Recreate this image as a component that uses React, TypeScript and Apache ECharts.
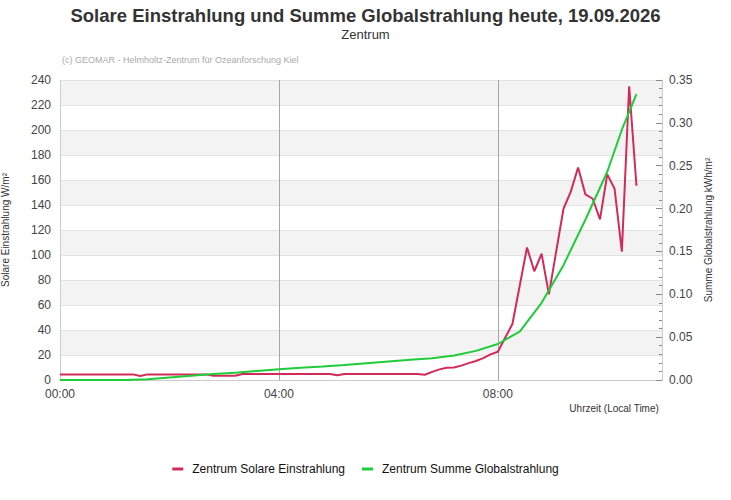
import React, { useEffect, useRef } from 'react';
import * as echarts from 'echarts';

// Solare Einstrahlung (W/m²), Zentrum
const redTimes = [
  '00:00', '01:20', '01:28', '01:36', '02:40', '02:48', '03:12', '03:20',
  '04:56', '05:04', '05:12', '06:32', '06:40', '06:48', '06:56', '07:04',
  '07:12', '07:20', '07:28', '07:36', '07:44', '07:52', '08:00', '08:16',
  '08:32', '08:40', '08:48', '08:56', '09:12', '09:20', '09:28', '09:36',
  '09:44', '09:52', '10:00', '10:08', '10:16', '10:24', '10:32',
];
const redValues = [
  4.5, 4.5, 3.2, 4.5, 4.5, 3.4, 3.4, 4.8,
  4.8, 3.8, 4.8, 4.8, 4.2, 6.5, 8.5, 9.8,
  10, 11.5, 13.5, 15.2, 17.5, 20.5, 22.6, 44.8,
  106, 87, 101, 68.5, 137, 150.7, 170, 148.5,
  145, 128.5, 164.5, 153, 102.7, 235, 155.4,
];

// Summe Globalstrahlung (kWh/m²), Zentrum
const greenTimes = [
  '00:00', '01:12', '01:36', '02:00', '02:24', '02:48', '03:12', '03:36',
  '04:00', '04:24', '04:48', '05:12', '05:36', '06:00', '06:24', '06:48',
  '07:12', '07:36', '08:00', '08:24', '08:48', '09:12', '09:36', '10:00',
  '10:16', '10:32',
];
const greenValues = [
  0, 0, 0.001, 0.003, 0.005, 0.007, 0.0085, 0.0105,
  0.0125, 0.0142, 0.0158, 0.0175, 0.0195, 0.0215, 0.0235, 0.0255,
  0.0285, 0.034, 0.042, 0.0565, 0.09, 0.134, 0.187, 0.243,
  0.292, 0.3335,
];

const FONT = '"Liberation Sans", Arial, sans-serif';

const toHours = (t: string) => {
  const [h, m] = t.split(':').map(Number);
  return h + m / 60;
};

export default function App() {
  const chartRef = useRef<HTMLDivElement>(null);

  useEffect(() => {
    if (!chartRef.current) return;
    const chart = echarts.init(chartRef.current, undefined, { renderer: 'svg' });

    chart.setOption({
      animation: false,
      backgroundColor: '#ffffff',
      textStyle: { fontFamily: FONT },
      title: [
        {
          text: 'Solare Einstrahlung und Summe Globalstrahlung heute, 19.09.2026',
          left: 'center',
          top: 1,
          textStyle: { fontSize: 18.5, fontWeight: 'bold', color: '#333333', fontFamily: FONT },
        },
        {
          text: 'Zentrum',
          left: 'center',
          top: 23,
          textStyle: { fontSize: 13, fontWeight: 'normal', color: '#333333', fontFamily: FONT },
        },
        {
          text: '(c) GEOMAR - Helmholtz-Zentrum für Ozeanforschung Kiel',
          left: 57,
          top: 50,
          textStyle: { fontSize: 9, fontWeight: 'normal', color: '#aaaaaa', fontFamily: FONT },
        },
      ],
      graphic: [
        {
          type: 'text',
          right: 72,
          top: 403,
          style: { text: 'Uhrzeit (Local Time)', fontSize: 10, fill: '#333333', fontFamily: FONT },
        },
      ],
      legend: {
        top: 458,
        left: 'center',
        itemWidth: 11,
        itemHeight: 3,
        itemGap: 17,
        icon: 'rect',
        textStyle: { fontSize: 12, color: '#111111', fontFamily: FONT, padding: [0, 0, 0, 4] },
        data: ['Zentrum Solare Einstrahlung', 'Zentrum Summe Globalstrahlung'],
      },
      grid: {
        left: 60,
        right: 69,
        top: 80,
        bottom: 120,
        containLabel: false,
        outerBoundsMode: 'none',
      },
      xAxis: {
        type: 'value',
        min: 0,
        max: 11,
        interval: 4,
        axisLine: { show: true, lineStyle: { color: '#cccccc' } },
        axisTick: { show: false },
        axisLabel: {
          color: '#444444',
          fontSize: 12,
          margin: 8,
          showMaxLabel: false,
          formatter: (v: number) => `${String(v).padStart(2, '0')}:00`,
        },
        splitLine: {
          show: true,
          showMinLine: false,
          showMaxLine: false,
          lineStyle: { color: '#a6a6a6', width: 1 },
        },
      },
      yAxis: [
        {
          type: 'value',
          min: 0,
          max: 240,
          interval: 20,
          name: 'Solare Einstrahlung W/m²',
          nameLocation: 'middle',
          nameRotate: 90,
          nameGap: 50,
          nameTextStyle: { fontSize: 10, color: '#333333' },
          axisLine: { show: true, lineStyle: { color: '#cccccc' } },
          axisTick: { show: false },
          axisLabel: { color: '#444444', fontSize: 12, margin: 9 },
          splitLine: { show: true, lineStyle: { color: '#e3e3e3' } },
          splitArea: { show: true, areaStyle: { color: ['#ffffff', '#f3f3f3'] } },
        },
        {
          type: 'value',
          position: 'right',
          min: 0,
          max: 0.35,
          interval: 0.05,
          name: 'Summe Globalstrahlung kWh/m²',
          nameLocation: 'middle',
          nameRotate: 90,
          nameGap: 38,
          nameTextStyle: { fontSize: 10, color: '#333333' },
          axisLine: { show: true, lineStyle: { color: '#cccccc' } },
          axisTick: { show: true, inside: true, length: 6, lineStyle: { color: '#888888' } },
          minorTick: { show: true, splitNumber: 5, length: 3, lineStyle: { color: '#888888' } },
          axisLabel: {
            color: '#444444',
            fontSize: 12,
            margin: 7,
            formatter: (v: number) => v.toFixed(2),
          },
          splitLine: { show: false },
        },
      ],
      series: [
        {
          name: 'Zentrum Solare Einstrahlung',
          type: 'line',
          yAxisIndex: 0,
          showSymbol: false,
          color: '#d22b5a',
          lineStyle: { width: 2, color: '#d22b5a' },
          data: redTimes.map((t, i) => [toHours(t), redValues[i]]),
        },
        {
          name: 'Zentrum Summe Globalstrahlung',
          type: 'line',
          yAxisIndex: 1,
          showSymbol: false,
          color: '#1fcc3a',
          lineStyle: { width: 2, color: '#1fcc3a' },
          data: greenTimes.map((t, i) => [toHours(t), greenValues[i]]),
        },
      ],
    });

    return () => chart.dispose();
  }, []);

  return (
    <div
      ref={chartRef}
      style={{ position: 'fixed', left: 0, top: 0, width: 731, height: 500 }}
    />
  );
}
